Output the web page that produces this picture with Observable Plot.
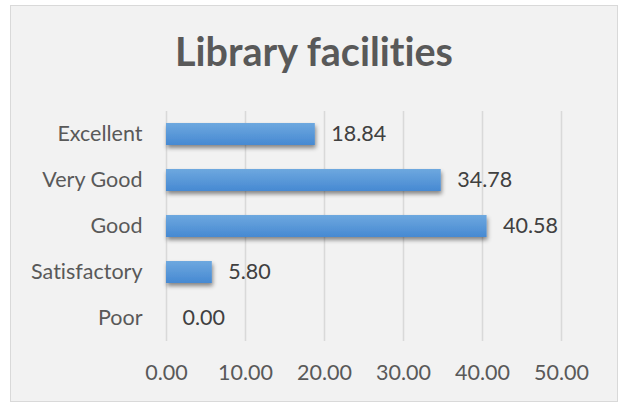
<!DOCTYPE html>
<html>
<head>
<meta charset="utf-8">
<script src="https://cdn.jsdelivr.net/npm/d3@7"></script>
<script src="https://cdn.jsdelivr.net/npm/@observablehq/plot@0.6"></script>
<style>
  html, body { margin: 0; padding: 0; background: #ffffff; }
  #box {
    position: absolute; left: 10px; top: 5px;
    width: 606px; height: 395px;
    background: #f2f2f2; border: 1px solid #d9d9d9;
  }
  #title {
    position: absolute; left: 0; top: 26px; width: 606px;
    text-align: center; font-family: Lato, sans-serif; font-weight: bold;
    font-size: 39.5px; line-height: 38px; color: #595959;
    font-variant-ligatures: none; font-feature-settings: "liga" 0;
  }
  #chart { position: absolute; left: 0; top: 0; }
  #chart svg text { font-variant-ligatures: none; }
</style>
</head>
<body>
<div id="box">
  <div id="chart"></div>
  <div id="title">Library facilities</div>
</div>
<script>
const categories = ["Excellent", "Very Good", "Good", "Satisfactory", "Poor"];
const values = [18.84, 34.78, 40.58, 5.80, 0.00];
const xTicks = [0, 10, 20, 30, 40, 50];

const data = categories.map((c, i) => ({category: c, value: values[i]}));

const plot = Plot.plot({
  width: 606,
  height: 395,
  marginLeft: 155,
  marginRight: 56,
  marginTop: 105,
  marginBottom: 60,
  style: {fontFamily: "Lato, sans-serif", fontSize: "21.5px", color: "#595959", background: "transparent", overflow: "visible"},
  x: {domain: [0, 50], ticks: xTicks},
  y: {domain: categories, paddingInner: 0.52, paddingOuter: 0.26},
  marks: [
    Plot.ruleX(xTicks, {stroke: "#d9d9d9", strokeWidth: 1.6}),
    Plot.barX(data, {x: "value", y: "category", fill: "url(#barGrad)"}),
    Plot.text(data, {x: "value", y: "category", text: d => d.value.toFixed(2), textAnchor: "start", dx: 16, fill: "#404040", fontSize: 21.5}),
    Plot.axisX({ticks: xTicks, tickSize: 0, tickPadding: 23, tickFormat: d => d.toFixed(2), label: null, fontSize: 21.5}),
    Plot.axisY({tickSize: 0, tickPadding: 24, label: null, fontSize: 21.5})
  ]
});

const svg = d3.select(plot);
const defs = svg.insert("defs", ":first-child");
const g = defs.append("linearGradient").attr("id", "barGrad").attr("x1", 0).attr("y1", 0).attr("x2", 0).attr("y2", 1);
g.append("stop").attr("offset", "0%").attr("stop-color", "#6ea8df");
g.append("stop").attr("offset", "100%").attr("stop-color", "#4689d2");
const f = defs.append("filter").attr("id", "shadow").attr("x", "-10%").attr("y", "-30%").attr("width", "130%").attr("height", "200%");
f.append("feDropShadow").attr("dx", 1).attr("dy", 3).attr("stdDeviation", 2).attr("flood-color", "#000").attr("flood-opacity", 0.45);
svg.selectAll("g[aria-label='bar'] rect").attr("filter", "url(#shadow)");

document.getElementById("chart").appendChild(plot);
</script>
</body>
</html>
